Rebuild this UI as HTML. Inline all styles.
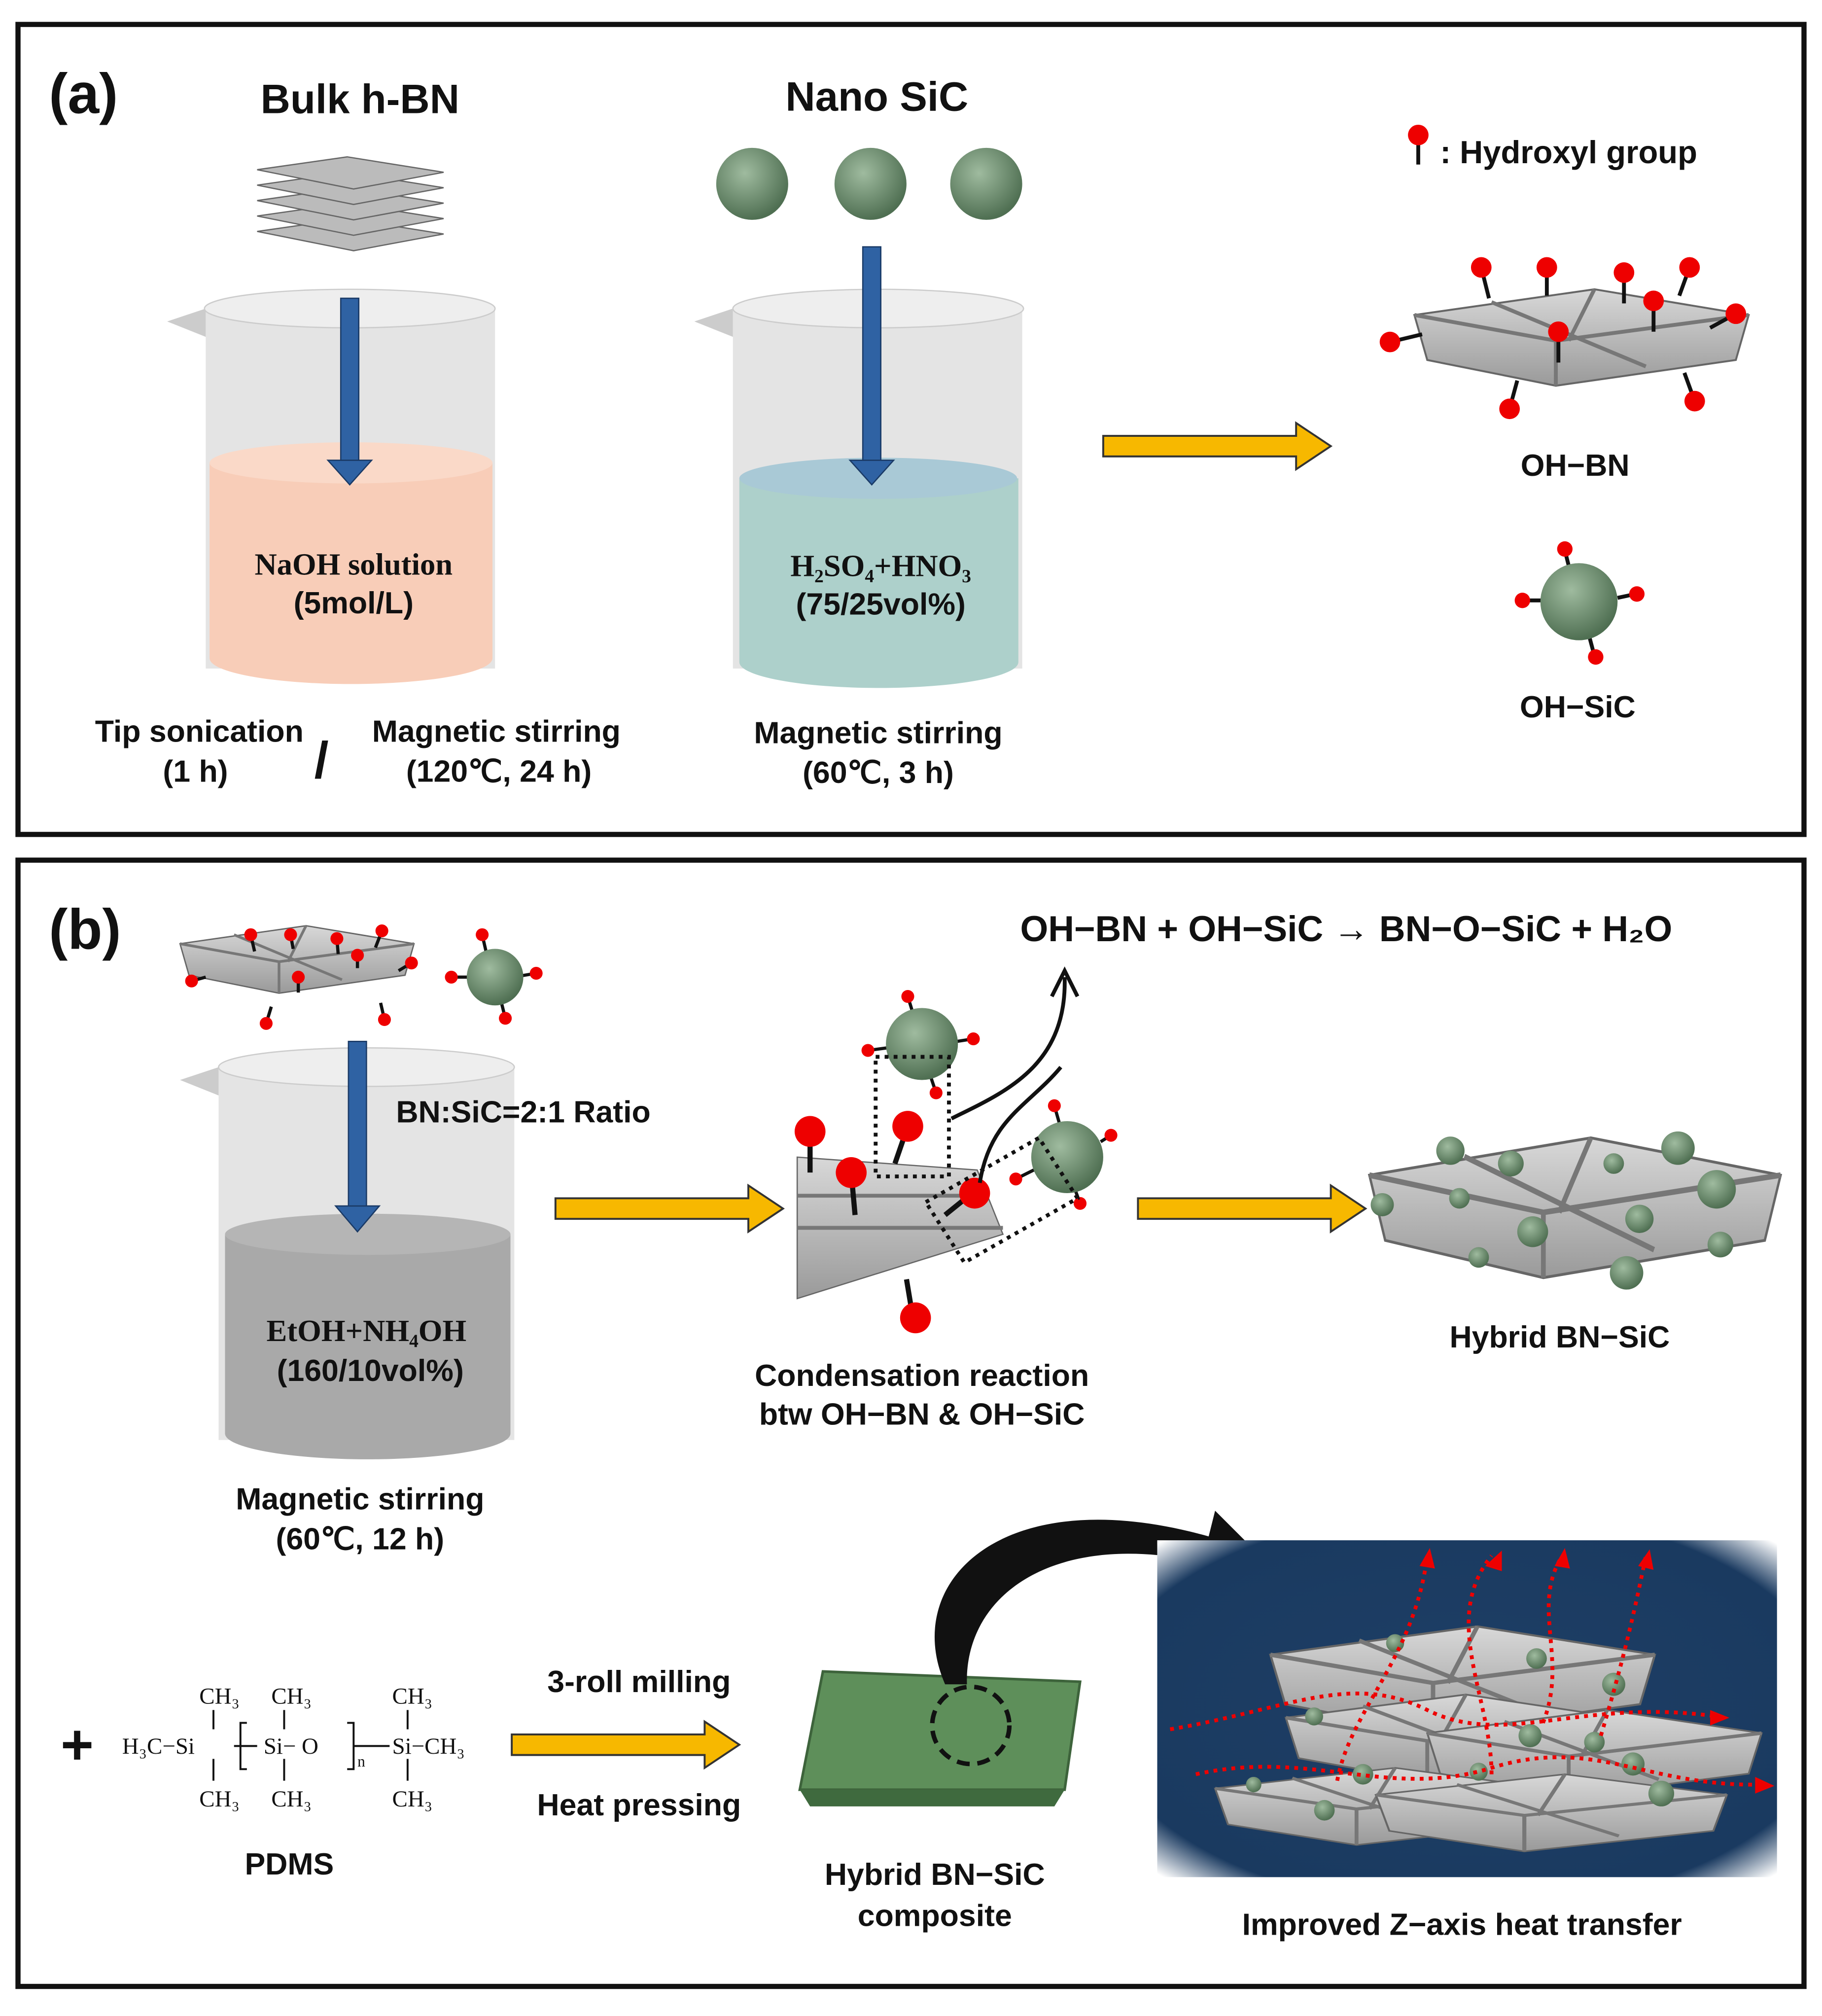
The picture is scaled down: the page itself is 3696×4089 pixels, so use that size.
<!DOCTYPE html>
<html><head><meta charset="utf-8"><style>
html,body{margin:0;padding:0;background:#fff;}
svg{display:block;}
text{font-family:"Liberation Sans",sans-serif;font-weight:bold;fill:#111;}
.s{font-family:"Liberation Serif",serif;}
</style></head><body>
<svg width="3696" height="4089" viewBox="0 0 1417 1568" preserveAspectRatio="none" xmlns="http://www.w3.org/2000/svg">
<defs>
<radialGradient id="ball" cx="40%" cy="35%" r="65%"><stop offset="0" stop-color="#9fbb9f"/><stop offset="1" stop-color="#4f6f52"/></radialGradient>
<linearGradient id="plate" x1="0" y1="0" x2="0" y2="1"><stop offset="0" stop-color="#d8d8d8"/><stop offset="1" stop-color="#9a9a9a"/></linearGradient>
<radialGradient id="blue" cx="50%" cy="50%" r="70%"><stop offset="0" stop-color="#1e3f66"/><stop offset="0.85" stop-color="#1a3a60"/><stop offset="1" stop-color="#ffffff"/></radialGradient>
<g id="yarrow"><path d="M0,-8 L150,-8 L150,-18 L177,0 L150,18 L150,8 L0,8 Z" fill="#f7b800" stroke="#333" stroke-width="1.5"/></g>
<g id="plateS"><path d="M0,20 L140,0 L260,20 L250,55 L110,75 L10,55 Z" fill="url(#plate)" stroke="#666" stroke-width="1.5"/><path d="M0,20 L110,40 L260,20 M110,40 L110,75 M60,10 L180,60 M140,0 L120,40" stroke="#777" stroke-width="3" fill="none"/></g>
</defs>
<rect x="0" y="0" width="1417" height="1568" fill="#fff"/>
<rect x="14" y="19" width="1389" height="630" fill="none" stroke="#111" stroke-width="4"/>
<rect x="14" y="669" width="1389" height="876" fill="none" stroke="#111" stroke-width="4"/>
<text x="38" y="88" font-size="44">(a)</text>
<text x="38" y="738" font-size="44">(b)</text>

<text x="280" y="88" font-size="32" text-anchor="middle">Bulk h-BN</text>
<rect x="160" y="240" width="225" height="280" fill="#d9d9d9" opacity="0.7"/>
<path d="M160,240 L130,250 L160,262 Z" fill="#ccc"/>
<ellipse cx="272" cy="240" rx="113" ry="15" fill="#eee" stroke="#ccc"/>
<path d="M163,360 L383,360 L383,512 A110,20 0 0 1 163,512 Z" fill="#f8cdb8"/>
<ellipse cx="273" cy="360" rx="110" ry="16" fill="#fad9c8"/>
<g transform="translate(200,120)">
<g fill="#bbb" stroke="#666"><path d="M0,60 L70,50 L145,62 L75,75 Z"/><path d="M0,48 L70,38 L145,50 L75,63 Z"/><path d="M0,36 L70,26 L145,38 L75,51 Z"/><path d="M0,24 L70,14 L145,26 L75,39 Z"/><path d="M0,12 L70,2 L145,14 L75,27 Z"/></g>
</g>
<rect x="265" y="232" width="14" height="128" fill="#2f62a3" stroke="#1a3a66"/>
<path d="M255,358 L289,358 L272,377 Z" fill="#2f62a3" stroke="#1a3a66"/>
<text x="275" y="447" font-size="24" text-anchor="middle" class="s">NaOH solution</text>
<text x="275" y="477" font-size="24" text-anchor="middle">(5mol/L)</text>
<text x="155" y="577" font-size="24" text-anchor="middle">Tip sonication</text>
<text x="152" y="608" font-size="24" text-anchor="middle">(1 h)</text>
<text x="250" y="605" font-size="40" text-anchor="middle" font-weight="normal">/</text>
<text x="386" y="577" font-size="24" text-anchor="middle">Magnetic stirring</text>
<text x="388" y="608" font-size="24" text-anchor="middle">(120℃, 24 h)</text>

<text x="682" y="86" font-size="32" text-anchor="middle">Nano SiC</text>
<circle cx="585" cy="143" r="28" fill="url(#ball)"/><circle cx="677" cy="143" r="28" fill="url(#ball)"/><circle cx="767" cy="143" r="28" fill="url(#ball)"/>
<rect x="570" y="240" width="225" height="280" fill="#d9d9d9" opacity="0.7"/>
<path d="M570,240 L540,250 L570,262 Z" fill="#ccc"/>
<ellipse cx="683" cy="240" rx="113" ry="15" fill="#eee" stroke="#ccc"/>
<path d="M575,372 L792,372 L792,515 A108,20 0 0 1 575,515 Z" fill="#add0cb"/>
<ellipse cx="683" cy="372" rx="108" ry="16" fill="#a9c9d6"/>
<rect x="671" y="192" width="14" height="168" fill="#2f62a3" stroke="#1a3a66"/>
<path d="M661,358 L695,358 L678,377 Z" fill="#2f62a3" stroke="#1a3a66"/>
<text x="685" y="448" font-size="24" text-anchor="middle" class="s">H₂SO₄+HNO₃</text>
<text x="685" y="478" font-size="24" text-anchor="middle">(75/25vol%)</text>
<text x="683" y="578" font-size="24" text-anchor="middle">Magnetic stirring</text>
<text x="683" y="609" font-size="24" text-anchor="middle">(60℃, 3 h)</text>

<use href="#yarrow" x="858" y="347"/>

<line x1="1103" y1="108" x2="1103" y2="128" stroke="#111" stroke-width="3"/><circle cx="1103" cy="105" r="8" fill="#e00"/>
<text x="1120" y="127" font-size="25">: Hydroxyl group</text>
<g transform="translate(1100,225)"><use href="#plateS"/></g>
<g stroke="#111" stroke-width="3">
<line x1="1152" y1="208" x2="1158" y2="232"/><line x1="1203" y1="208" x2="1203" y2="230"/><line x1="1263" y1="212" x2="1263" y2="236"/><line x1="1314" y1="208" x2="1306" y2="230"/><line x1="1286" y1="234" x2="1286" y2="258"/><line x1="1212" y1="258" x2="1212" y2="282"/><line x1="1350" y1="244" x2="1330" y2="255"/><line x1="1081" y1="266" x2="1106" y2="260"/><line x1="1174" y1="318" x2="1180" y2="296"/><line x1="1318" y1="312" x2="1310" y2="290"/>
</g>
<g fill="#e00"><circle cx="1152" cy="208" r="8"/><circle cx="1203" cy="208" r="8"/><circle cx="1263" cy="212" r="8"/><circle cx="1314" cy="208" r="8"/><circle cx="1286" cy="234" r="8"/><circle cx="1212" cy="258" r="8"/><circle cx="1350" cy="244" r="8"/><circle cx="1081" cy="266" r="8"/><circle cx="1174" cy="318" r="8"/><circle cx="1318" cy="312" r="8"/></g>
<text x="1225" y="370" font-size="24" text-anchor="middle">OH−BN</text>
<g stroke="#111" stroke-width="3"><line x1="1217" y1="428" x2="1222" y2="448"/><line x1="1185" y1="467" x2="1200" y2="467"/><line x1="1272" y1="462" x2="1258" y2="465"/><line x1="1240" y1="510" x2="1236" y2="495"/></g>
<circle cx="1228" cy="468" r="30" fill="url(#ball)"/>
<g fill="#e00"><circle cx="1217" cy="427" r="6"/><circle cx="1184" cy="467" r="6"/><circle cx="1273" cy="462" r="6"/><circle cx="1241" cy="511" r="6"/></g>
<text x="1227" y="558" font-size="24" text-anchor="middle">OH−SiC</text>

<g transform="translate(140,720) scale(0.7)"><use href="#plateS"/></g>
<g stroke="#111" stroke-width="2.5"><line x1="195" y1="727" x2="198" y2="740"/><line x1="226" y1="727" x2="228" y2="738"/><line x1="262" y1="730" x2="263" y2="742"/><line x1="297" y1="724" x2="292" y2="737"/><line x1="278" y1="743" x2="278" y2="753"/><line x1="320" y1="749" x2="310" y2="755"/><line x1="232" y1="760" x2="232" y2="772"/><line x1="149" y1="763" x2="160" y2="760"/><line x1="207" y1="796" x2="211" y2="783"/><line x1="299" y1="793" x2="296" y2="780"/>
<line x1="375" y1="727" x2="378" y2="740"/><line x1="351" y1="760" x2="364" y2="760"/><line x1="417" y1="757" x2="405" y2="759"/><line x1="393" y1="792" x2="390" y2="780"/></g>
<g fill="#e00"><circle cx="195" cy="727" r="5"/><circle cx="226" cy="727" r="5"/><circle cx="262" cy="730" r="5"/><circle cx="297" cy="724" r="5"/><circle cx="278" cy="743" r="5"/><circle cx="320" cy="749" r="5"/><circle cx="232" cy="760" r="5"/><circle cx="149" cy="763" r="5"/><circle cx="207" cy="796" r="5"/><circle cx="299" cy="793" r="5"/></g>
<circle cx="385" cy="760" r="22" fill="url(#ball)"/>
<g fill="#e00"><circle cx="375" cy="727" r="5"/><circle cx="351" cy="760" r="5"/><circle cx="417" cy="757" r="5"/><circle cx="393" cy="792" r="5"/></g>
<rect x="170" y="830" width="230" height="290" fill="#d9d9d9" opacity="0.7"/>
<path d="M170,830 L140,840 L170,852 Z" fill="#ccc"/>
<ellipse cx="285" cy="830" rx="115" ry="15" fill="#eee" stroke="#ccc"/>
<path d="M175,960 L397,960 L397,1115 A111,20 0 0 1 175,1115 Z" fill="#a9a9a9"/>
<ellipse cx="286" cy="960" rx="111" ry="16" fill="#b5b5b5"/>
<rect x="271" y="810" width="14" height="130" fill="#2f62a3" stroke="#1a3a66"/>
<path d="M261,938 L295,938 L278,958 Z" fill="#2f62a3" stroke="#1a3a66"/>
<text x="308" y="873" font-size="24">BN:SiC=2:1 Ratio</text>
<text x="285" y="1043" font-size="24" text-anchor="middle" class="s">EtOH+NH₄OH</text>
<text x="288" y="1074" font-size="24" text-anchor="middle">(160/10vol%)</text>
<text x="280" y="1174" font-size="24" text-anchor="middle">Magnetic stirring</text>
<text x="280" y="1205" font-size="24" text-anchor="middle">(60℃, 12 h)</text>
<use href="#yarrow" x="432" y="940"/>

<text x="1047" y="732" font-size="28" text-anchor="middle">OH−BN + OH−SiC → BN−O−SiC + H₂O</text>
<path d="M620,900 L760,910 L780,960 L620,1010 Z" fill="url(#plate)" stroke="#666"/>
<path d="M620,955 L780,955 M620,930 L760,930" stroke="#777" stroke-width="3"/>
<g stroke="#111" stroke-width="4"><line x1="630" y1="880" x2="630" y2="912"/><line x1="662" y1="912" x2="665" y2="945"/><line x1="706" y1="876" x2="696" y2="905"/><line x1="710" y1="1025" x2="705" y2="995"/><line x1="756" y1="928" x2="735" y2="945"/></g>
<g fill="#e00"><circle cx="630" cy="880" r="12"/><circle cx="662" cy="912" r="12"/><circle cx="706" cy="876" r="12"/><circle cx="712" cy="1025" r="12"/><circle cx="758" cy="928" r="12"/></g>
<g stroke="#111" stroke-width="2.5"><line x1="706" y1="775" x2="710" y2="788"/><line x1="675" y1="817" x2="690" y2="815"/><line x1="757" y1="808" x2="744" y2="810"/><line x1="728" y1="850" x2="724" y2="838"/><line x1="820" y1="860" x2="824" y2="874"/><line x1="790" y1="917" x2="804" y2="910"/><line x1="864" y1="883" x2="856" y2="888"/><line x1="840" y1="936" x2="836" y2="925"/></g>
<circle cx="717" cy="812" r="28" fill="url(#ball)"/>
<g fill="#e00"><circle cx="706" cy="775" r="5"/><circle cx="675" cy="817" r="5"/><circle cx="757" cy="808" r="5"/><circle cx="728" cy="850" r="5"/></g>
<circle cx="830" cy="900" r="28" fill="url(#ball)"/>
<g fill="#e00"><circle cx="820" cy="860" r="5"/><circle cx="790" cy="917" r="5"/><circle cx="864" cy="883" r="5"/><circle cx="840" cy="936" r="5"/></g>
<g fill="none" stroke="#111" stroke-width="3" stroke-dasharray="3,4"><rect x="681" y="822" width="57" height="93"/><path d="M720,935 L808,885 L838,932 L750,982 Z"/></g>
<path d="M740,870 C780,850 830,830 828,760 M762,920 C770,870 800,860 825,830" stroke="#111" stroke-width="3" fill="none"/>
<path d="M818,775 L828,755 L838,775" stroke="#111" stroke-width="3" fill="none"/>
<text x="717" y="1078" font-size="24" text-anchor="middle">Condensation reaction</text>
<text x="717" y="1108" font-size="24" text-anchor="middle">btw OH−BN &amp; OH−SiC</text>
<use href="#yarrow" x="885" y="940"/>

<g transform="translate(1065,885) scale(1.23,1.45)"><use href="#plateS"/></g>
<g fill="url(#ball)"><circle cx="1128" cy="895" r="11"/><circle cx="1175" cy="905" r="10"/><circle cx="1255" cy="905" r="8"/><circle cx="1305" cy="893" r="13"/><circle cx="1075" cy="937" r="9"/><circle cx="1135" cy="932" r="8"/><circle cx="1192" cy="958" r="12"/><circle cx="1275" cy="948" r="11"/><circle cx="1335" cy="925" r="15"/><circle cx="1338" cy="968" r="10"/><circle cx="1265" cy="990" r="13"/><circle cx="1150" cy="978" r="8"/></g>
<text x="1213" y="1048" font-size="24" text-anchor="middle">Hybrid BN−SiC</text>

<text x="60" y="1372" font-size="44" text-anchor="middle" font-weight="normal">+</text>
<g font-size="18">
<text x="95" y="1364" class="s" style="font-weight:normal">H₃C−Si</text>
<text x="155" y="1325" class="s" style="font-weight:normal">CH₃</text><text x="155" y="1405" class="s" style="font-weight:normal">CH₃</text>
<text x="211" y="1325" class="s" style="font-weight:normal">CH₃</text><text x="211" y="1405" class="s" style="font-weight:normal">CH₃</text>
<text x="305" y="1325" class="s" style="font-weight:normal">CH₃</text><text x="305" y="1405" class="s" style="font-weight:normal">CH₃</text>
<text x="205" y="1364" class="s" style="font-weight:normal">Si− O</text>
<text x="278" y="1374" font-size="12" class="s" style="font-weight:normal">n</text>
<text x="305" y="1364" class="s" style="font-weight:normal">Si−CH₃</text>
</g>
<g stroke="#111" stroke-width="1.5" fill="none"><path d="M166,1330 L166,1345 M166,1368 L166,1385 M221,1330 L221,1345 M221,1368 L221,1385 M317,1330 L317,1345 M317,1368 L317,1385 M182,1358 L200,1358 M192,1340 L187,1340 L187,1376 L192,1376 M270,1340 L275,1340 L275,1376 L270,1376 M275,1358 L303,1358"/></g>
<text x="225" y="1458" font-size="24" text-anchor="middle">PDMS</text>
<text x="497" y="1316" font-size="24" text-anchor="middle">3-roll milling</text>
<text x="497" y="1412" font-size="24" text-anchor="middle">Heat pressing</text>
<use href="#yarrow" x="398" y="1357"/>

<path d="M640,1300 L840,1308 L828,1392 L622,1392 Z" fill="#5e8f5a" stroke="#3d633b" stroke-width="2"/>
<path d="M622,1392 L828,1392 L820,1405 L630,1405 Z" fill="#3f6a3e"/>
<circle cx="755" cy="1342" r="30" fill="none" stroke="#111" stroke-width="3.5" stroke-dasharray="10,6"/>
<path d="M735,1310 C700,1230 780,1150 940,1195 L945,1175 L985,1215 L930,1235 L935,1215 C820,1190 750,1240 752,1310 Z" fill="#111"/>
<text x="727" y="1466" font-size="24" text-anchor="middle">Hybrid BN−SiC</text>
<text x="727" y="1498" font-size="24" text-anchor="middle">composite</text>

<rect x="900" y="1198" width="482" height="262" fill="url(#blue)"/>
<g transform="translate(988,1265) scale(1.15,1.1)"><use href="#plateS"/></g>
<g transform="translate(1000,1318) scale(1.0,0.9)"><use href="#plateS"/></g>
<g transform="translate(1110,1330) scale(1.0,0.9)"><use href="#plateS"/></g>
<g transform="translate(945,1375) scale(1.0,0.8)"><use href="#plateS"/></g>
<g transform="translate(1070,1380) scale(1.05,0.8)"><use href="#plateS"/></g>
<g fill="url(#ball)"><circle cx="1085" cy="1278" r="7"/><circle cx="1195" cy="1290" r="8"/><circle cx="1255" cy="1310" r="9"/><circle cx="1022" cy="1335" r="7"/><circle cx="1190" cy="1350" r="9"/><circle cx="1240" cy="1355" r="8"/><circle cx="1060" cy="1380" r="8"/><circle cx="1150" cy="1378" r="7"/><circle cx="1270" cy="1372" r="9"/><circle cx="1030" cy="1408" r="8"/><circle cx="1292" cy="1395" r="10"/><circle cx="975" cy="1388" r="6"/></g>
<g fill="none" stroke="#e00" stroke-width="3" stroke-dasharray="3,4">
<path d="M910,1345 C1000,1330 1050,1300 1110,1330 S1230,1320 1335,1335"/>
<path d="M930,1380 C1020,1360 1080,1400 1160,1375 S1280,1390 1370,1388"/>
<path d="M1040,1385 C1050,1330 1100,1290 1110,1210"/>
<path d="M1160,1380 C1160,1320 1120,1260 1160,1210"/>
<path d="M1200,1340 C1220,1290 1190,1250 1215,1210"/>
<path d="M1245,1350 C1260,1300 1270,1260 1280,1210"/>
</g>
<g fill="#e00"><path d="M1104,1218 L1112,1204 L1116,1220 Z"/><path d="M1155,1218 L1168,1206 L1168,1222 Z"/><path d="M1209,1218 L1217,1204 L1221,1220 Z"/><path d="M1274,1218 L1283,1205 L1286,1221 Z"/><path d="M1330,1330 L1345,1336 L1330,1342 Z"/><path d="M1365,1382 L1380,1389 L1365,1395 Z"/></g>
<text x="1137" y="1505" font-size="24" text-anchor="middle">Improved Z−axis heat transfer</text>
</svg>
</body></html>
